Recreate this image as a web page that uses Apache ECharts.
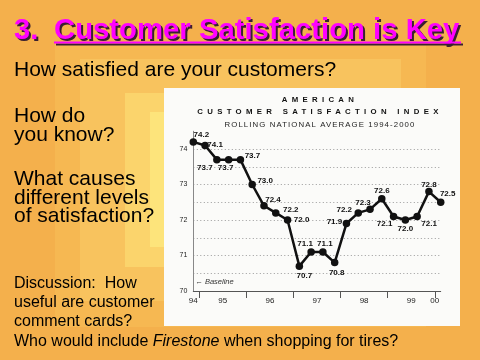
<!DOCTYPE html>
<html><head><meta charset="utf-8">
<script src="https://cdn.jsdelivr.net/npm/echarts@6/dist/echarts.min.js"></script>
<style>html,body{margin:0;padding:0;background:#F4B04C}#c{width:480px;height:360px}</style>
</head><body><div id="c"></div>
<script>
// ---- data ----
const satisfaction = [74.2, 74.1, 73.7, 73.7, 73.7, 73.0, 72.4, 72.2, 72.0, 70.7, 71.1, 71.1, 70.8, 71.9, 72.2, 72.3, 72.6, 72.1, 72.0, 72.1, 72.8, 72.5];
const yearLabels = ['94', '95', '96', '97', '98', '99', '00'];
const yearLabelAt = [0, 2.5, 6.5, 10.5, 14.5, 18.5, 20.5];
const yearBoundaries = [0.5, 4.5, 8.5, 12.5, 16.5, 20.5];
const yTickLabels = [70, 71, 72, 73, 74];
const chartTitle1 = 'AMERICAN';
const chartTitle2 = 'CUSTOMER SATISFACTION INDEX';
const chartSubtitle = 'ROLLING NATIONAL AVERAGE 1994-2000';
const baselineNote = '\u2190 Baseline';

// letter spacing for the spaced-out chart headings (canvas letterSpacing)
const spacing = {};
spacing[chartTitle1] = '4.3px';
spacing[chartTitle2] = '4.3px';
spacing[chartSubtitle] = '1.1px';
(function () {
  const proto = CanvasRenderingContext2D.prototype;
  const orig = proto.fillText;
  proto.fillText = function (t, x, y, w) {
    const s = spacing[t];
    if (s && 'letterSpacing' in this) {
      this.save();
      this.letterSpacing = s;
      const r = (w === undefined) ? orig.call(this, t, x, y) : orig.call(this, t, x, y, w);
      this.restore();
      return r;
    }
    return (w === undefined) ? orig.call(this, t, x, y) : orig.call(this, t, x, y, w);
  };
})();

// ---- styling helpers ----
const labelOffsets = [[8,-7],[10,-1],[-12,8],[-3,8],[12,-4],[13,-4],[9,-6],[15,-3],[14,0],[5,10],[-6,-8],[2,-8],[2,10],[-12,-2],[-14,-3],[-7,-7],[0,-8],[-9,7],[0,9],[12,7],[0,-7],[7,-8]];
const FONT = 'Liberation Sans, Arial, sans-serif';
const SHADOW = { textShadowColor: '#3a2030', textShadowBlur: 0.5, textShadowOffsetX: 2, textShadowOffsetY: 2 };

const seriesData = satisfaction.map((v, i) => ({
  value: [i, v],
  label: { offset: labelOffsets[i] }
}));

const chart = echarts.init(document.getElementById('c'), null, { renderer: 'canvas' });
chart.setOption({
  animation: false,
  backgroundColor: '#F4B04C',
  grid: { left: 193.3, right: 39.3, top: 131.25, bottom: 69, containLabel: false, outerBoundsMode: 'none' },
  xAxis: {
    type: 'value', min: 0, max: 21,
    splitLine: { show: false },
    axisLine: { show: true, lineStyle: { color: '#555', width: 1 } },
    axisTick: { show: true, customValues: yearBoundaries, length: 7, lineStyle: { color: '#555' } },
    axisLabel: {
      customValues: yearLabelAt,
      formatter: v => yearLabels[yearLabelAt.indexOf(v)],
      fontSize: 8, color: '#222', margin: 6, fontFamily: FONT
    }
  },
  yAxis: {
    type: 'value', min: 70, max: 74.5, interval: 0.5,
    axisLine: { show: true, lineStyle: { color: '#888', width: 1 } },
    axisTick: { show: false },
    axisLabel: { customValues: yTickLabels, fontSize: 7, color: '#222', margin: 6, fontFamily: FONT },
    splitLine: { show: true, showMaxLine: false, showMinLine: false, lineStyle: { color: '#9a9a9a', type: [1, 2.5], width: 1 } }
  },
  series: [{
    type: 'line',
    data: seriesData,
    symbol: 'circle',
    symbolSize: 7.5,
    itemStyle: { color: '#111' },
    lineStyle: { color: '#111', width: 2.5 },
    label: {
      show: true, position: 'inside', fontSize: 8, fontWeight: 'bold', color: '#111', fontFamily: FONT,
      formatter: p => p.value[1].toFixed(1)
    },
    markPoint: {
      symbol: 'circle', symbolSize: 0,
      label: { show: true, position: 'right', distance: 2, formatter: baselineNote, fontStyle: 'italic', fontSize: 7.5, color: '#333', fontFamily: FONT },
      data: [{ coord: [0, 70.25] }]
    }
  }],
  graphic: [
    { type: 'rect', z: -10, silent: true, shape: { x: 55, y: 44, width: 371, height: 283 }, style: { fill: '#F6B852' } },
    { type: 'rect', z: -10, silent: true, shape: { x: 80, y: 59, width: 321, height: 242 }, style: { fill: '#F8C35E' } },
    { type: 'rect', z: -10, silent: true, shape: { x: 125, y: 93, width: 250, height: 174 }, style: { fill: '#FBD46C' } },
    { type: 'rect', z: -10, silent: true, shape: { x: 150, y: 112, width: 200, height: 135 }, style: { fill: '#FDE47B' } },
    { type: 'rect', z: -9, silent: true, shape: { x: 164, y: 88, width: 296, height: 238 }, style: { fill: '#FBFBF9' } },
    { type: 'text', style: { text: chartTitle1, x: 320, y: 100, align: 'center', verticalAlign: 'middle', fontSize: 7.8, fontWeight: 'bold', fill: '#111', fontFamily: FONT } },
    { type: 'text', style: { text: chartTitle2, x: 320, y: 112, align: 'center', verticalAlign: 'middle', fontSize: 7.8, fontWeight: 'bold', fill: '#111', fontFamily: FONT } },
    { type: 'text', style: { text: chartSubtitle, x: 320, y: 124.5, align: 'center', verticalAlign: 'middle', fontSize: 7.8, fill: '#222', fontFamily: FONT } },
    // slide title
    { type: 'text', style: Object.assign({ text: '3.', x: 14, y: 30.5, verticalAlign: 'middle', fontSize: 29, fontWeight: 'bold', fill: '#FF00FF', fontFamily: FONT }, SHADOW) },
    { type: 'text', style: Object.assign({ text: 'Customer Satisfaction is Key', x: 54, y: 30.5, verticalAlign: 'middle', fontSize: 29.3, fontWeight: 'bold', fill: '#FF00FF', fontFamily: FONT }, SHADOW) },
    { type: 'line', shape: { x1: 54, y1: 42.5, x2: 461, y2: 42.5 }, style: { stroke: '#FF00FF', lineWidth: 2, shadowColor: '#3a2030', shadowOffsetX: 2, shadowOffsetY: 2 } },
    // body text
    { type: 'text', style: { text: 'How satisfied are your customers?', x: 14, y: 70.5, verticalAlign: 'middle', fontSize: 21, fill: '#000', fontFamily: FONT } },
    { type: 'text', style: { text: 'How do\nyou know?', x: 14, y: 106.3, verticalAlign: 'top', lineHeight: 19, fontSize: 21, fill: '#000', fontFamily: FONT } },
    { type: 'text', style: { text: 'What causes\ndifferent levels\nof satisfaction?', x: 14, y: 170.3, verticalAlign: 'top', lineHeight: 18.3, fontSize: 21, fill: '#000', fontFamily: FONT } },
    { type: 'text', style: { text: 'Discussion:  How\nuseful are customer\ncomment cards?', x: 14, y: 273.7, verticalAlign: 'top', lineHeight: 19.33, fontSize: 16, fill: '#000', fontFamily: FONT } },
    { type: 'text', style: {
      text: '{n|Who would include }{i|Firestone}{n| when shopping for tires?}', x: 14, y: 341.3, verticalAlign: 'middle',
      fontSize: 16, fill: '#000', fontFamily: FONT,
      rich: { n: { fontSize: 16, fontFamily: FONT, fill: '#000' }, i: { fontSize: 16, fontStyle: 'italic', fontFamily: FONT, fill: '#000' } }
    } }
  ]
});
</script>
</body></html>
